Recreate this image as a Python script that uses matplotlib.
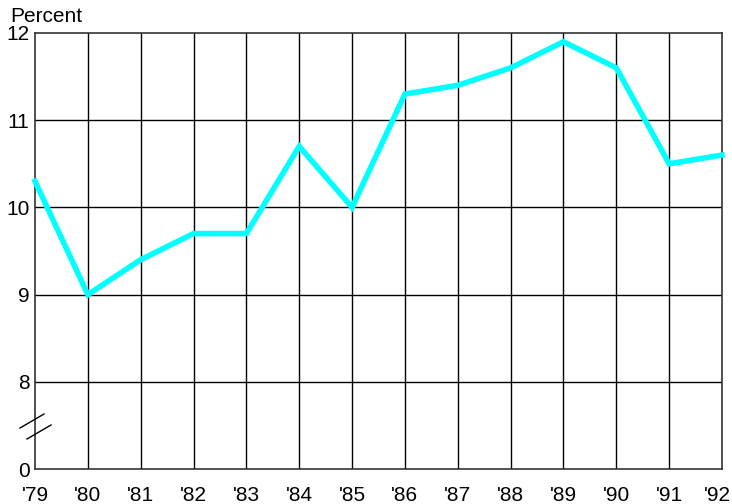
import matplotlib
matplotlib.use("Agg")
import matplotlib.pyplot as plt
import matplotlib.transforms as mtransforms

plt.rcParams['font.family'] = ['Liberation Sans', 'DejaVu Sans']

# data
years = ["'79", "'80", "'81", "'82", "'83", "'84", "'85", "'86", "'87", "'88", "'89", "'90", "'91", "'92"]
percent = [10.3, 9.0, 9.4, 9.7, 9.7, 10.7, 10.0, 11.3, 11.4, 11.6, 11.9, 11.6, 10.5, 10.6]
ytick_pos = [7, 8, 9, 10, 11, 12]
ytick_lab = ["0", "8", "9", "10", "11", "12"]

fig = plt.figure(figsize=(7.32, 5.04), dpi=100)
ax = fig.add_axes([35/732, 35/504, 687/732, 436/504])

x = list(range(len(years)))
ax.plot(x, percent, color="#00FFFF", lw=4, solid_joinstyle="miter", zorder=3, clip_on=False)

ax.set_xlim(0, len(years) - 1)
ax.set_ylim(7, 12)
ax.set_xticks(x)
ax.set_xticklabels(years)
ax.set_yticks(ytick_pos)
ax.set_yticklabels(ytick_lab)
ax.tick_params(length=0, labelsize=15, colors="black")
ax.tick_params(axis="x", pad=12)
ax.tick_params(axis="y", pad=4)

# nudge the last year label so it stays inside the picture
last = ax.get_xticklabels()[-1]
last.set_transform(last.get_transform() + mtransforms.ScaledTranslation(-5/100, 0, fig.dpi_scale_trans))

# grid lines (skip the broken 7-8 horizontal)
for xv in x[1:-1]:
    ax.axvline(xv, color="black", lw=1, zorder=1)
for yv in [8, 9, 10, 11]:
    ax.axhline(yv, color="black", lw=1, zorder=1)

for s in ax.spines.values():
    s.set_color("#333333")
    s.set_linewidth(1.2)

# axis break marks
def px(xp, yp):
    return (xp - 35) / 687, (469 - yp) / 436

for (x0, y0, x1, y1) in [(20, 428, 44, 414), (27, 439, 51, 425)]:
    a = px(x0, y0)
    b = px(x1, y1)
    ax.plot([a[0], b[0]], [a[1], b[1]], transform=ax.transAxes, color="black",
            lw=1, clip_on=False, zorder=4)

fig.text(10/732, 1 - 17/504, "Percent", fontsize=15, va="center", ha="left")

fig.savefig("out.png", dpi=100)
